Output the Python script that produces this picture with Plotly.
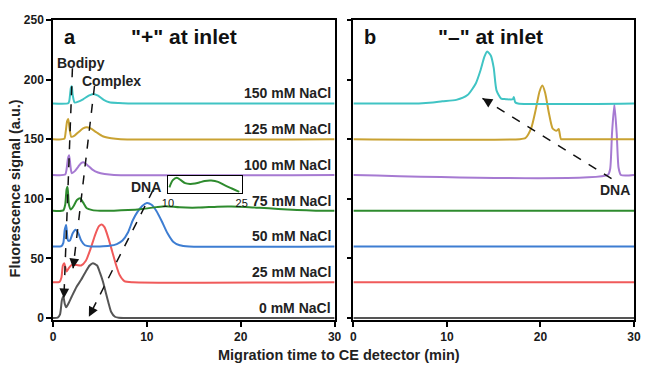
import plotly.graph_objects as go

# ---------------- data ----------------
salt_labels = ["0 mM NaCl", "25 mM NaCl", "50 mM NaCl", "75 mM NaCl",
               "100 mM NaCl", "125 mM NaCl", "150 mM NaCl"]
baselines = [0, 30, 60, 90, 120, 150, 180]
colors = ["#555555", "#f05a5a", "#3d7dd2", "#2e8b2e", "#a67ad2", "#c9a232", "#40c4c4"]

# panel a: "+" at inlet
t0 = [0, 0.5, 0.75, 0.95, 1.1, 1.25, 1.4, 1.7, 2.0, 2.5, 3.0, 3.5, 3.9, 4.25, 4.7, 5.0,
      5.3, 5.6, 5.9, 6.2, 6.6, 7.0, 8.0, 30]
s0 = [0, 0.3, 3, 15, 18, 12, 9, 13, 18, 26, 32, 39, 44, 46, 44, 38,
      31, 22, 13, 5, 1, 0.2, 0, 0]
t25 = [0, 0.7, 0.9, 1.05, 1.2, 1.45, 1.7, 2.0, 2.5, 3.0, 3.5, 4.0, 4.5, 4.9, 5.2, 5.5,
       5.9, 6.3, 6.7, 7.1, 7.6, 8.5, 30]
s25 = [30, 30.3, 34, 44, 46, 39, 42, 44.5, 44.5, 44, 48, 58, 70, 77, 78.5, 76,
       67, 56, 45, 36, 31, 30, 30]
t50 = [0, 0.9, 1.1, 1.25, 1.4, 1.6, 1.8, 2.1, 2.4, 2.7, 3.0, 3.4, 4.0, 5.0, 6.0, 6.8,
       7.4, 8.0, 8.5, 9.0, 9.5, 10.0, 10.5, 11.0, 11.6, 12.2, 12.8, 13.5, 14.5, 30]
s50 = [60, 60.3, 63, 74, 78, 65, 65, 71, 74, 71, 65, 61, 60, 60, 60.5, 62,
       65, 72, 82, 89, 94, 96.5, 95, 90, 81, 71, 64, 61, 60, 60]
t75 = [0, 1.1, 1.3, 1.45, 1.55, 1.7, 1.9, 2.2, 2.55, 2.9, 3.2, 3.6, 4.2, 5.0, 6.5, 8.0,
       9.5, 11.0, 12.0, 13.5, 15.5, 17.5, 19.0, 20.5, 22.0, 24.0, 26.0, 28.0, 30]
s75 = [90, 90.3, 95, 108, 110, 95, 91, 94, 99, 100.5, 97, 92, 90.5, 90, 90, 90.5,
       91.5, 93, 93.8, 92.8, 92.6, 93.4, 93.5, 93.2, 92.5, 91.5, 90.5, 90, 90]
t100 = [0, 1.3, 1.45, 1.6, 1.72, 1.85, 2.0, 2.3, 2.7, 3.0, 3.3, 3.7, 4.2, 4.8, 5.5, 6.5, 30]
s100 = [120, 120.3, 125, 134, 136.5, 128, 121.5, 123, 127, 130, 130.5, 128, 124.5, 122,
        120.8, 120, 120]
t125 = [0, 1.2, 1.35, 1.5, 1.62, 1.75, 1.95, 2.3, 2.8, 3.2, 3.6, 4.0, 4.6, 5.3, 6.2, 7.2, 30]
s125 = [150, 150.3, 156, 165, 167, 160, 152, 153, 156.5, 159, 160, 159, 156, 152.5,
        150.8, 150, 150]
t150 = [0, 1.65, 1.8, 1.9, 2.0, 2.1, 2.3, 2.7, 3.2, 3.8, 4.3, 4.8, 5.4, 6.0, 7.0, 8.0, 30]
s150 = [180, 180.3, 186, 193, 194.5, 187, 180.8, 181.5, 183.5, 186.5, 188, 186.5, 183,
        181, 180.3, 180, 180]

# inset of the 75 mM trace (10-25 min)
inset_t = [10.3, 11.0, 11.8, 12.6, 13.5, 14.5, 15.5, 16.5, 17.5, 18.8, 20.2, 21.5, 23.0, 24.5]
inset_s = [92.3, 94.0, 94.6, 94.0, 93.3, 93.1, 93.2, 93.5, 93.8, 93.9, 93.6, 92.8, 92.0, 91.2]

# panel b: "-" at inlet
tb0, sb0 = [0, 30], [0, 0]
tb25, sb25 = [0, 30], [30, 30]
tb50, sb50 = [0, 30], [60, 60]
tb75, sb75 = [0, 30], [90, 90]
tb100 = [0, 27.2, 27.45, 27.65, 27.9, 28.15, 28.35, 28.6, 30]
sb100 = [120, 120, 125, 155, 179, 155, 126, 120, 120]
tb125 = [0, 17.8, 18.4, 19.0, 19.5, 19.9, 20.2, 20.5, 20.9, 21.3, 21.7, 21.95, 22.05, 22.2, 22.5, 30]
sb125 = [150, 150, 151, 159, 175, 190, 195, 189, 172, 159, 157, 158.5, 155, 150, 150, 150]
tb150 = [0, 7.0, 8.5, 9.5, 11.0, 12.2, 13.1, 13.6, 14.0, 14.3, 14.7, 15.0, 15.3, 15.8, 16.3,
         17.05, 17.15, 17.3, 17.6, 30]
sb150 = [180, 180, 180.8, 181.8, 183, 187, 197, 208, 219, 223.5, 220, 210, 191, 184,
         183.6, 183.5, 185.5, 181, 180, 180]

panel_a = [(t0, s0), (t25, s25), (t50, s50), (t75, s75), (t100, s100), (t125, s125), (t150, s150)]
panel_b = [(tb0, sb0), (tb25, sb25), (tb50, sb50), (tb75, sb75), (tb100, sb100), (tb125, sb125), (tb150, sb150)]

# ---------------- figure ----------------
FONT = "Liberation Sans, Arial, sans-serif"
fig = go.Figure()

for (t, s), c in zip(panel_a, colors):
    fig.add_trace(go.Scatter(x=t, y=s, mode="lines", xaxis="x", yaxis="y",
                             line=dict(color=c, width=2, shape="spline", smoothing=0.6),
                             showlegend=False, hoverinfo="skip"))
for (t, s), c in zip(panel_b, colors):
    fig.add_trace(go.Scatter(x=t, y=s, mode="lines", xaxis="x2", yaxis="y2",
                             line=dict(color=c, width=2, shape="spline", smoothing=0.6),
                             showlegend=False, hoverinfo="skip"))
fig.add_trace(go.Scatter(x=inset_t, y=inset_s, mode="lines", xaxis="x3", yaxis="y3",
                         line=dict(color=colors[3], width=2, shape="spline", smoothing=0.8),
                         showlegend=False, hoverinfo="skip"))

axis_common = dict(showline=True, mirror=True, linecolor="black", linewidth=1.5,
                   ticks="outside", ticklen=5, tickwidth=1.5, tickcolor="black",
                   showgrid=False, zeroline=False,
                   tickfont=dict(family=FONT, size=12, color="#1a1a1a", weight="bold"))

fig.update_layout(
    width=646, height=365,
    margin=dict(l=53, r=5, t=20, b=45),
    paper_bgcolor="white", plot_bgcolor="white",
    font=dict(family=FONT, color="#1a1a1a"),
    xaxis=dict(domain=[0, 0.4847], range=[0, 30], tickvals=[0, 10, 20, 30], anchor="y", **axis_common),
    yaxis=dict(domain=[0, 1], range=[-1.7, 250], tickvals=[0, 50, 100, 150, 200, 250], anchor="x", **axis_common),
    xaxis2=dict(domain=[0.517, 1], range=[0, 30], tickvals=[0, 10, 20, 30], anchor="y2", **axis_common),
    yaxis2=dict(domain=[0, 1], range=[-1.7, 250], tickvals=[0, 50, 100, 150, 200, 250],
                showticklabels=False, anchor="x2", **axis_common),
    xaxis3=dict(domain=[0.1978, 0.3248], range=[10, 25], anchor="y3", showline=True, mirror=True,
                linecolor="black", linewidth=1, showgrid=False, zeroline=False,
                tickvals=[10, 25], ticks="", tickfont=dict(family=FONT, size=11, color="#111"),
                ticklabelstandoff=0),
    yaxis3=dict(domain=[0.4243, 0.48], range=[91, 95], anchor="x3", showline=True, mirror=True,
                linecolor="black", linewidth=1, showgrid=False, zeroline=False,
                showticklabels=False, ticks=""),
)

ann = []
# NaCl labels
for lab, b in zip(salt_labels, baselines):
    ann.append(dict(x=29.8, y=b + 8.5, xref="x", yref="y", text=f"<b>{lab}</b>", showarrow=False,
                    xanchor="right", yanchor="middle", font=dict(family=FONT, size=14, color="#222")))
# panel letters and titles
ann += [
    dict(x=1.82, y=236, xref="x", yref="y", text="<b>a</b>", showarrow=False,
         font=dict(family=FONT, size=20, color="#111")),
    dict(x=13.95, y=236, xref="x", yref="y", text='<b>"+" at inlet</b>', showarrow=False,
         font=dict(family=FONT, size=21, color="#111")),
    dict(x=1.8, y=236, xref="x2", yref="y2", text="<b>b</b>", showarrow=False,
         font=dict(family=FONT, size=20, color="#111")),
    dict(x=14.65, y=236, xref="x2", yref="y2", text='<b>"\u2013" at inlet</b>', showarrow=False,
         font=dict(family=FONT, size=21, color="#111")),
    dict(x=3.0, y=213.7, xref="x", yref="y", text="<b>Bodipy</b>", showarrow=False,
         font=dict(family=FONT, size=14, color="#222")),
    dict(x=6.2, y=198.8, xref="x", yref="y", text="<b>Complex</b>", showarrow=False,
         font=dict(family=FONT, size=14, color="#222")),
    dict(x=9.86, y=110, xref="x", yref="y", text="<b>DNA</b>", showarrow=False,
         font=dict(family=FONT, size=14, color="#222")),
    dict(x=28.0, y=107, xref="x2", yref="y2", text="<b>DNA</b>", showarrow=False,
         font=dict(family=FONT, size=14, color="#222")),
    # axis titles
    dict(x=0.493, y=-0.117, xref="paper", yref="paper", xanchor="center", yanchor="middle",
         text="<b>Migration time to CE detector (min)</b>",
         showarrow=False, font=dict(family=FONT, size=14.5, color="#222")),
    dict(x=-0.0646, y=0.44, xref="paper", yref="paper", xanchor="center", yanchor="middle",
         text="<b>Fluorescence signal (a.u.)</b>",
         showarrow=False, textangle=-90, font=dict(family=FONT, size=14.5, color="#222")),
]

# dashed arrows: (tail, head, axis ref, pixel offset for head)
arrows = [
    ((2.07, 209.5), (1.16, 16.5), "x", "y", (0.4, -10)),
    ((4.42, 194.6), (2.14, 41.7), "x", "y", (1.2, -9.9)),
    ((10.67, 107.4), (3.82, 1.1), "x", "y", (4.6, -8.9)),
    ((27.6, 117.0), (13.8, 184.3), "x2", "y2", (8.5, 5.2)),
]
shapes = []
for (tx, ty), (hx, hy), xr, yr, (ox, oy) in arrows:
    shapes.append(dict(type="line", xref=xr, yref=yr, x0=tx, y0=ty, x1=hx, y1=hy,
                       line=dict(color="#111", width=1.5, dash="dash")))
    ann.append(dict(x=hx, y=hy, xref=xr, yref=yr, ax=ox, ay=oy, text="", showarrow=True,
                    arrowhead=2, arrowsize=1.3, arrowwidth=1.5, arrowcolor="#111", standoff=0))

fig.update_layout(annotations=ann, shapes=shapes)
fig.write_html("out.html", config={"displayModeBar": False},
               post_script="document.body.style.margin='0px';")
